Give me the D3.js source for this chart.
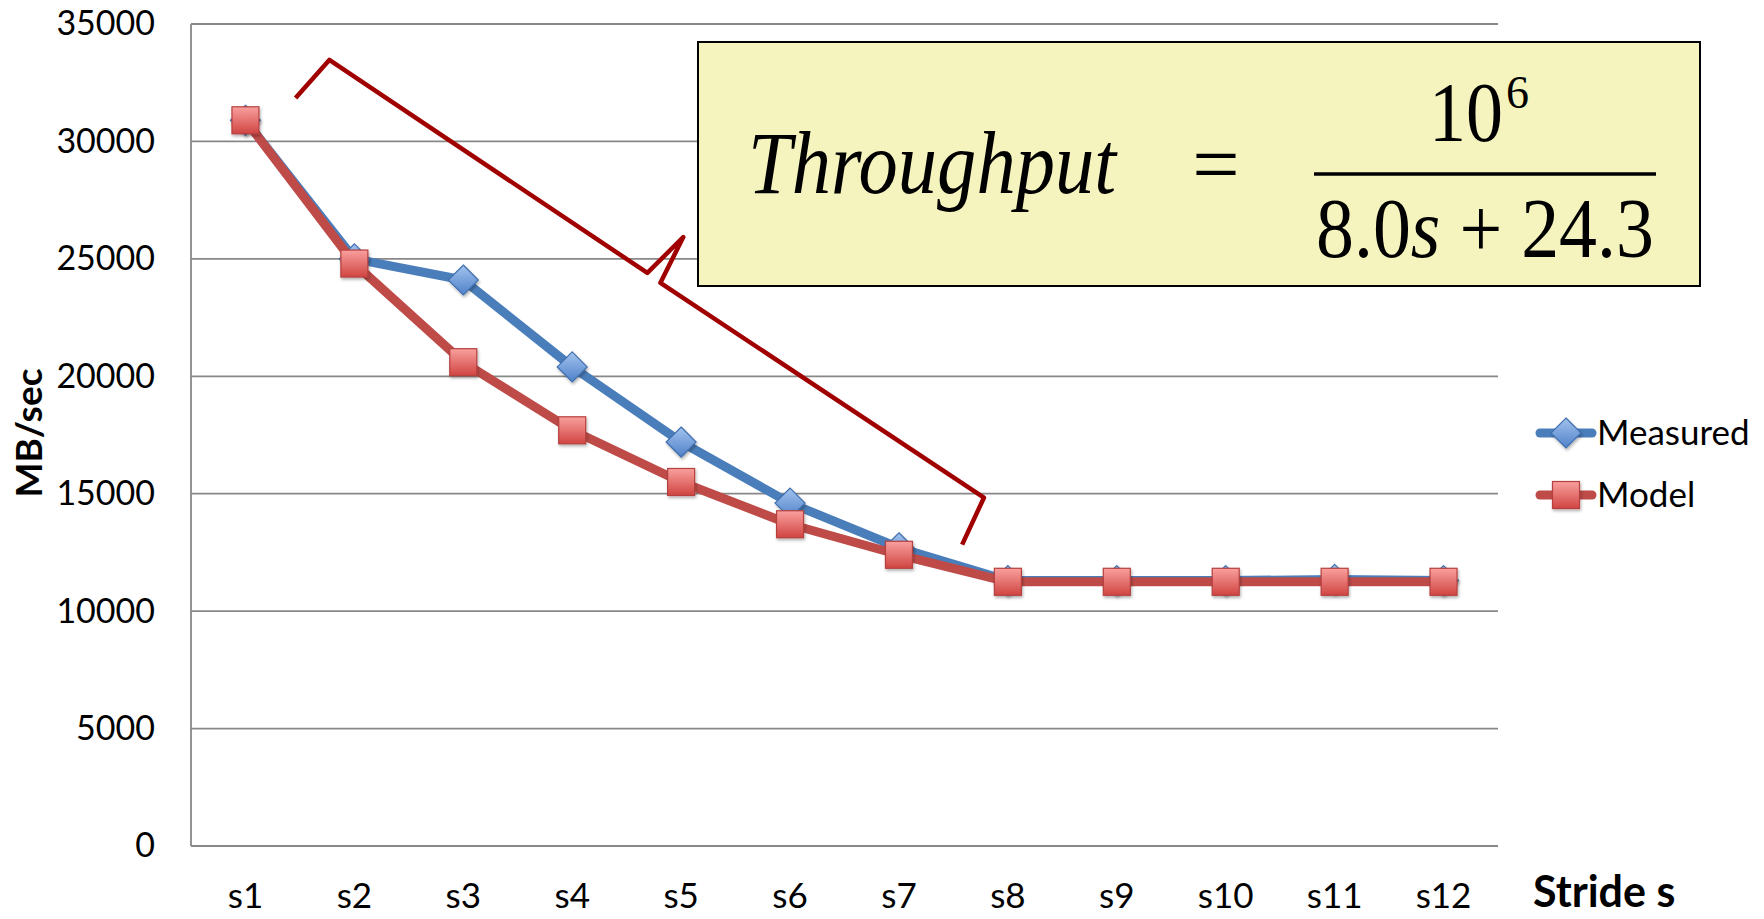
<!DOCTYPE html>
<html>
<head>
<meta charset="utf-8">
<script src="https://cdn.jsdelivr.net/npm/d3@7"></script>
<style>
  body { margin: 0; background: #fff; }
</style>
</head>
<body>
<div id="chart"></div>
<script>
// categories and series
var strides = ["s1","s2","s3","s4","s5","s6","s7","s8","s9","s10","s11","s12"];
var measured = [30900, 25000, 24100, 20400, 17200, 14600, 12700, 11300, 11300, 11300, 11350, 11300];
var model = [30900, 24800, 20600, 17700, 15500, 13700, 12400, 11250, 11250, 11250, 11250, 11250];
var yTicks = [0, 5000, 10000, 15000, 20000, 25000, 30000, 35000];
var seriesNames = ["Measured", "Model"];
// brace annotation, in (stride index, MB/sec)
var bracePts = [[0.46, 31850], [0.77, 33470], [3.69, 24400], [4.02, 25930], [3.81, 23980], [6.78, 14830], [6.58, 12830]];

var W = 1764, H = 919;
var mLeft = 191, mRight = 1498, mTop = 24, mBottom = 846;
var sansFont = "Lato, 'Open Sans', sans-serif";
var serifFont = "'Liberation Serif', 'DejaVu Serif', serif";

var svg = d3.select("#chart").append("svg")
    .attr("width", W)
    .attr("height", H)
    .attr("font-family", sansFont);

svg.append("rect").attr("width", W).attr("height", H).attr("fill", "#fff");

var x = d3.scaleBand().domain(strides).range([mLeft, mRight]);
var y = d3.scaleLinear().domain([0, 35000]).range([mBottom, mTop]);
function xc(d) { return x(d) + x.bandwidth() / 2; }
function xi(i) { return x(strides[0]) + x.bandwidth() / 2 + i * x.step(); }

var defs = svg.append("defs");
var gb = defs.append("linearGradient").attr("id", "gBlue").attr("x1", 0).attr("y1", 0).attr("x2", 0).attr("y2", 1);
gb.append("stop").attr("offset", "0%").attr("stop-color", "#a3c3ee");
gb.append("stop").attr("offset", "100%").attr("stop-color", "#4f81c9");
var gr = defs.append("linearGradient").attr("id", "gRed").attr("x1", 0).attr("y1", 0).attr("x2", 0).attr("y2", 1);
gr.append("stop").attr("offset", "0%").attr("stop-color", "#f9a09e");
gr.append("stop").attr("offset", "100%").attr("stop-color", "#d04542");
var sh = defs.append("filter").attr("id", "shadow").attr("x", "-30%").attr("y", "-30%").attr("width", "170%").attr("height", "170%");
sh.append("feDropShadow").attr("dx", 1).attr("dy", 2).attr("stdDeviation", 1.5).attr("flood-color", "#000").attr("flood-opacity", 0.3);

// grid
svg.append("g")
    .selectAll("line")
    .data(yTicks)
    .enter()
    .append("line")
    .attr("x1", mLeft)
    .attr("x2", mRight)
    .attr("y1", function (d) { return y(d); })
    .attr("y2", function (d) { return y(d); })
    .attr("stroke", "#888")
    .attr("stroke-width", 1.8);

svg.append("line")
    .attr("x1", mLeft).attr("x2", mLeft)
    .attr("y1", mTop).attr("y2", mBottom)
    .attr("stroke", "#888").attr("stroke-width", 1.8);

// y axis
var yAxis = svg.append("g")
    .attr("transform", "translate(" + (mLeft - 36) + ",0)")
    .call(d3.axisLeft(y).tickValues(yTicks).tickSize(0).tickPadding(0).tickFormat(d3.format("d")));
yAxis.select(".domain").remove();
yAxis.selectAll("text")
    .attr("font-size", 34)
    .attr("font-family", sansFont)
    .attr("fill", "#000");

// x axis
var xAxis = svg.append("g")
    .attr("transform", "translate(0," + mBottom + ")")
    .call(d3.axisBottom(x).tickSize(0).tickPadding(37));
xAxis.select(".domain").remove();
xAxis.selectAll("text")
    .attr("font-size", 35)
    .attr("font-family", sansFont)
    .attr("fill", "#000");

// axis titles
svg.append("text")
    .attr("transform", "translate(42,433) rotate(-90)")
    .attr("text-anchor", "middle")
    .attr("font-size", 37)
    .attr("font-weight", "bold")
    .text("MB/sec");

svg.append("text")
    .attr("x", 1533)
    .attr("y", 907)
    .attr("font-size", 43)
    .attr("font-weight", "bold")
    .text("Stride s");

// brace
var braceLine = d3.line()
    .x(function (d) { return xi(d[0]); })
    .y(function (d) { return y(d[1]); });
svg.append("path")
    .attr("d", braceLine(bracePts))
    .attr("fill", "none")
    .attr("stroke", "#a00000")
    .attr("stroke-width", 4.5)
    .attr("stroke-linejoin", "round");

// series
var line = d3.line()
    .x(function (d, i) { return xc(strides[i]); })
    .y(function (d) { return y(d); });

function diamond(g, cx, cy) {
    var r = 15;
    g.append("path")
        .attr("d", "M" + cx + "," + (cy - r) + "L" + (cx + r) + "," + cy + "L" + cx + "," + (cy + r) + "L" + (cx - r) + "," + cy + "Z")
        .attr("fill", "url(#gBlue)")
        .attr("stroke", "#3f6fae")
        .attr("stroke-width", 1.2)
        .attr("filter", "url(#shadow)");
}
function square(g, cx, cy) {
    var r = 13.5;
    g.append("rect")
        .attr("x", cx - r).attr("y", cy - r)
        .attr("width", 2 * r).attr("height", 2 * r)
        .attr("fill", "url(#gRed)")
        .attr("stroke", "#b5403d")
        .attr("stroke-width", 1.2)
        .attr("filter", "url(#shadow)");
}

var gM = svg.append("g").attr("id", "measured");
gM.append("path")
    .attr("d", line(measured))
    .attr("fill", "none")
    .attr("stroke", "#4a7ebb")
    .attr("stroke-width", 9)
    .attr("stroke-linejoin", "round");
measured.forEach(function (d, i) { diamond(gM, xc(strides[i]), y(d)); });

var gD = svg.append("g").attr("id", "model");
gD.append("path")
    .attr("d", line(model))
    .attr("fill", "none")
    .attr("stroke", "#be4b48")
    .attr("stroke-width", 9)
    .attr("stroke-linejoin", "round");
model.forEach(function (d, i) { square(gD, xc(strides[i]), y(d)); });

// legend
var legY = [433, 495];
var legColors = ["#4a7ebb", "#be4b48"];
seriesNames.forEach(function (name, i) {
    var g = svg.append("g");
    g.append("line")
        .attr("x1", 1540).attr("x2", 1592)
        .attr("y1", legY[i]).attr("y2", legY[i])
        .attr("stroke", legColors[i])
        .attr("stroke-width", 9)
        .attr("stroke-linecap", "round");
    if (i === 0) diamond(g, 1566, legY[i]); else square(g, 1566, legY[i]);
    g.append("text")
        .attr("x", 1597)
        .attr("y", legY[i])
        .attr("dy", "0.35em")
        .attr("font-size", 35)
        .text(name);
});

// formula box
var box = svg.append("g").attr("id", "formula");
box.append("rect")
    .attr("x", 698).attr("y", 42)
    .attr("width", 1002).attr("height", 244)
    .attr("fill", "#f6f4be")
    .attr("stroke", "#000")
    .attr("stroke-width", 2);
box.append("text")
    .attr("x", 748).attr("y", 193)
    .attr("font-family", serifFont)
    .attr("font-style", "italic")
    .attr("font-size", 88)
    .attr("textLength", 368)
    .attr("lengthAdjust", "spacingAndGlyphs")
    .text("Throughput");
box.append("text")
    .attr("x", 1216).attr("y", 193)
    .attr("text-anchor", "middle")
    .attr("font-family", serifFont)
    .attr("font-size", 84)
    .text("=");
box.append("line")
    .attr("x1", 1314).attr("x2", 1656)
    .attr("y1", 174).attr("y2", 174)
    .attr("stroke", "#000").attr("stroke-width", 3.5);
box.append("text")
    .attr("x", 1429).attr("y", 141)
    .attr("font-family", serifFont)
    .attr("font-size", 84)
    .attr("textLength", 74)
    .attr("lengthAdjust", "spacingAndGlyphs")
    .text("10");
box.append("text")
    .attr("x", 1506).attr("y", 108)
    .attr("font-family", serifFont)
    .attr("font-size", 46)
    .text("6");
var den = box.append("text")
    .attr("x", 1316).attr("y", 257)
    .attr("font-family", serifFont)
    .attr("font-size", 84)
    .attr("textLength", 338)
    .attr("lengthAdjust", "spacingAndGlyphs");
den.append("tspan").text("8.0");
den.append("tspan").attr("font-style", "italic").text("s");
den.append("tspan").text(" + 24.3");
</script>
</body>
</html>
